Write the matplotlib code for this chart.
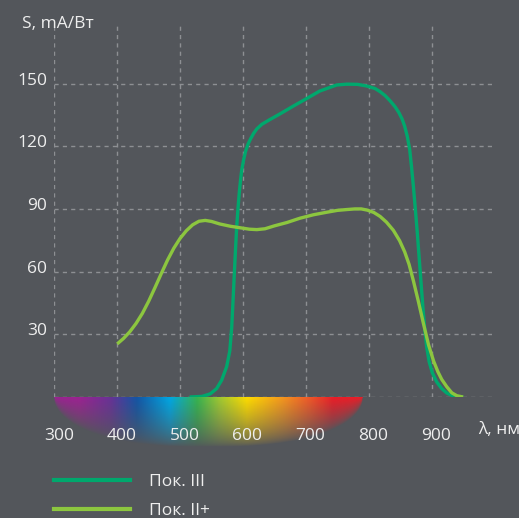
import numpy as np
import matplotlib
matplotlib.use("Agg")
import matplotlib.pyplot as plt
from matplotlib.transforms import ScaledTranslation
from matplotlib.lines import Line2D

# ---------------- data ----------------
x_ticks = [300, 400, 500, 600, 700, 800, 900]
y_ticks = [30, 60, 90, 120, 150]
y_grid = [0, 30, 60, 90, 120, 150]

# Пок. III (dark green)
wl_iii = [515, 535, 548, 558, 566, 574, 579, 582, 584, 586, 588, 590, 592, 594, 596, 598,
          601, 604, 608, 612, 617, 622, 630, 643, 659, 680, 700, 722, 749, 765, 782, 797,
          810, 818, 826, 834, 842, 848, 853, 857, 861, 865, 868, 871, 874, 877, 880, 883,
          886, 889, 892, 896, 901, 908, 916, 924, 933, 942, 950]
s_iii = [0.0, 0.3, 1.5, 4.0, 8.0, 14.5, 22.0, 33.0, 45.0, 57.6, 70.0, 81.5, 90.0, 97.5, 103.5, 108.6,
         113.5, 117.5, 121.0, 123.5, 126.2, 128.3, 130.5, 132.8, 135.5, 139.2, 142.6, 146.4, 149.3, 149.7, 149.6, 148.8,
         147.6, 146.1, 144.2, 141.7, 138.8, 136.0, 133.0, 129.6, 125.0, 118.5, 110.0, 100.5, 90.0, 79.0, 67.0, 55.0,
         43.0, 32.5, 24.0, 16.8, 11.6, 7.2, 4.0, 1.9, 0.6, 0.1, 0.0]

# Пок. II+ (light green)
wl_ii = [400, 410, 420, 430, 440, 450, 460, 470, 480, 490, 500, 510, 520, 530, 540, 550,
         563, 580, 595, 610, 622, 635, 650, 670, 690, 712, 733, 750, 765,
         778, 788, 798, 808, 818, 828, 839, 849, 857, 864, 871, 879, 887, 895, 903, 910,
         916, 924, 932, 940, 950]
s_ii = [25.4, 28.0, 31.2, 35.2, 40.0, 45.8, 52.3, 59.0, 65.5, 71.2, 75.9, 79.6, 82.4, 84.1, 84.5, 84.0,
        82.8, 81.7, 81.0, 80.3, 80.1, 80.5, 81.9, 83.5, 85.5, 87.2, 88.4, 89.3, 89.7,
        90.0, 90.0, 89.4, 88.3, 86.4, 83.7, 79.8, 74.8, 69.5, 63.5, 55.5, 45.5, 35.0, 25.0, 17.2, 12.0,
        8.4, 4.9, 2.0, 0.6, 0.0]

series_labels = ["Пок. III", "Пок. II+"]
series_colors = ["#00a86d", "#8cc63f"]

# spectrum colour stops (wavelength, rgb)
spec_wl = [300, 341, 389, 431, 484, 527, 563, 606, 663, 701, 743, 790]
spec_rgb = [(155, 35, 145), (155, 35, 145), (105, 50, 150), (20, 85, 165), (0, 168, 228),
            (55, 180, 80), (160, 200, 50), (255, 221, 0), (245, 150, 30), (240, 95, 40),
            (234, 30, 40), (234, 30, 40)]

# ---------------- style ----------------
BG = "#53565b"
GRID = "#8d8f93"
TXT = "#eeeeee"
FONT = ["Open Sans", "DejaVu Sans"]
plt.rcParams["font.family"] = FONT

W, H, DPI = 519, 518, 100
fig = plt.figure(figsize=(W / DPI, H / DPI), dpi=DPI, facecolor=BG)
ax = fig.add_axes([54.3 / W, (H - 397) / H, 438.4 / W, 374.5 / H])
ax.set_facecolor(BG)
ax.set_xlim(300, 997)
ax.set_ylim(0, 179.2)
for sp in ax.spines.values():
    sp.set_visible(False)

# grid
for xv in x_ticks:
    ax.axvline(xv, color=GRID, lw=1.0, ls=(0, (3, 3)), zorder=0)
for yv in y_grid:
    ax.axhline(yv, color=GRID, lw=1.0, ls=(0, (3, 3)), zorder=0)

# spectrum band (half-ellipse fading downward)
nx, ny = 500, 80
wl_img = np.linspace(spec_wl[0], spec_wl[-1], nx)
rgb = np.stack([np.interp(wl_img, spec_wl, [c[i] for c in spec_rgb]) for i in range(3)], axis=-1) / 255.0
t = np.linspace(-1, 1, nx)[None, :]
d = np.linspace(0, 1, ny)[:, None]
depth = np.sqrt(np.clip(1 - np.abs(t) ** 2.5, 1e-6, 1))
alpha = np.clip(1 - d / depth, 0, 1) ** 0.7
img = np.zeros((ny, nx, 4))
img[..., :3] = rgb[None, :, :]
img[..., 3] = alpha
ax.imshow(img, extent=(spec_wl[0], spec_wl[-1], -24, -0.5), aspect="auto",
          origin="upper", clip_on=False, zorder=1, interpolation="bilinear")

# curves
ax.plot(wl_iii, s_iii, color=series_colors[0], lw=2.4, solid_capstyle="butt",
        solid_joinstyle="round", zorder=3)
ax.plot(wl_ii, s_ii, color=series_colors[1], lw=2.4, solid_capstyle="butt",
        solid_joinstyle="round", zorder=4)

# ticks
ax.set_xticks(x_ticks)
ax.set_xticklabels([str(v) for v in x_ticks])
ax.set_yticks(y_ticks)
ax.set_yticklabels([str(v) for v in y_ticks])
ax.tick_params(length=0, colors=TXT, labelsize=12.5)
ax.tick_params(axis="x", pad=22)
ax.tick_params(axis="y", pad=5)
offx = ScaledTranslation(4.5 / DPI, 0, fig.dpi_scale_trans)
offy = ScaledTranslation(0, 5 / DPI, fig.dpi_scale_trans)
for lab in ax.get_xticklabels():
    lab.set_transform(lab.get_transform() + offx)
for lab in ax.get_yticklabels():
    lab.set_transform(lab.get_transform() + offy)

# axis titles
fig.text(22 / W, 1 - 24 / H, "S, mA/Вт", color=TXT, fontsize=12.5, ha="left", va="center")
fig.text(478 / W, 1 - 430 / H, "λ, нм", color=TXT, fontsize=12.5, ha="left", va="center")

# legend
handles = [Line2D([], [], color=c, lw=3) for c in series_colors]
leg = fig.legend(handles, series_labels, loc="upper left",
                 bbox_to_anchor=(54 / W, 1 - 474 / H), frameon=False,
                 borderpad=0, borderaxespad=0, handlelength=4.4, handletextpad=1.1,
                 labelspacing=0.72, fontsize=12.5)
for tx in leg.get_texts():
    tx.set_color(TXT)

fig.savefig("out.png", dpi=DPI, facecolor=BG)
